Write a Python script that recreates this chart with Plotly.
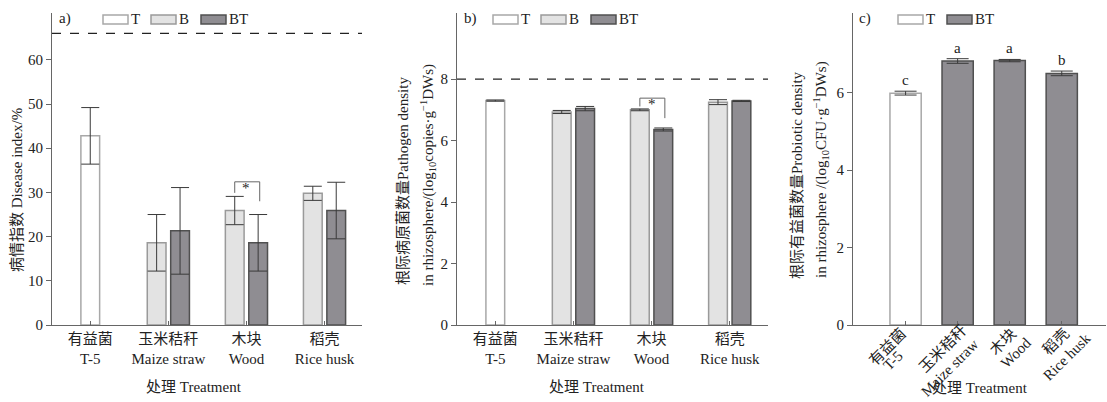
import plotly.graph_objects as go

W, H = 1107, 402
FONT = "Liberation Serif, 'Noto Sans CJK SC', serif"

# ---------------- data ----------------
cats_ab = ["有益菌<br>T-5", "玉米秸秆<br>Maize straw", "木块<br>Wood", "稻壳<br>Rice husk"]
cats_c = ["有益菌 T-5", "玉米秸秆 Maize straw", "木块 Wood", "稻壳 Rice husk"]
cats_c_cn = ["有益菌", "玉米秸秆", "木块", "稻壳"]
cats_c_en = ["T-5", "Maize straw", "Wood", "Rice husk"]

# panel a: disease index (%)
a_T = [42.8]
a_T_err = [6.4]
a_B = [18.6, 25.9, 29.8]
a_B_err = [6.4, 3.2, 1.6]
a_BT = [21.3, 18.6, 25.9]
a_BT_err = [9.8, 6.4, 6.4]
a_ref = 66.0

# panel b: pathogen density
b_T = [7.30]
b_T_err = [0.02]
b_B = [6.93, 7.00, 7.25]
b_B_err = [0.05, 0.03, 0.08]
b_BT = [7.04, 6.36, 7.29]
b_BT_err = [0.07, 0.05, 0.02]
b_ref = 8.0

# panel c: probiotic density
c_T = [5.99]
c_T_err = [0.05]
c_BT = [6.82, 6.83, 6.50]
c_BT_err = [0.06, 0.03, 0.06]
c_letters = ["c", "a", "a", "b"]

# significance brackets (top, left-leg end, right-leg end)
a_sig = [32.4, 29.9, 28.0]
b_sig = [7.38, 7.11, 6.73]

# ---------------- style ----------------
COL_T = "#ffffff"; LINE_T = "#a8a8a8"
COL_B = "#e3e3e3"; LINE_B = "#9a9a9a"
COL_BT = "#8f8d92"; LINE_BT = "#505050"
AX = "#666666"
ERR = "#3a3a3a"
FS = 15
# pixel placement of rotated label lines in panel c (dx from category centre, y centre)
c_lab1_pos = [(-18, 347), (-15, 349), (-7, 342), (-6, 342)]
c_lab2_pos = [(-13, 361), (-8, 368), (6, 353), (5, 357)]


def px(x):
    return x / W


def py(y):
    return 1 - y / H


fig = go.Figure()

def err(vals, w):
    return dict(type="data", array=vals, color=ERR, thickness=1, width=w)

BW = 0.24
# panel a
fig.add_trace(go.Bar(x=cats_ab[:1], y=a_T, error_y=err(a_T_err, 9), width=BW, offset=-BW / 2,
                     marker=dict(color=COL_T, line=dict(color=LINE_T, width=1.5)), xaxis="x", yaxis="y", name="T"))
fig.add_trace(go.Bar(x=cats_ab[1:], y=a_B, error_y=err(a_B_err, 9), width=BW, offset=-0.27,
                     marker=dict(color=COL_B, line=dict(color=LINE_B, width=1.5)), xaxis="x", yaxis="y", name="B"))
fig.add_trace(go.Bar(x=cats_ab[1:], y=a_BT, error_y=err(a_BT_err, 9), width=BW, offset=0.03,
                     marker=dict(color=COL_BT, line=dict(color=LINE_BT, width=1.5)), xaxis="x", yaxis="y", name="BT"))
# panel b
fig.add_trace(go.Bar(x=cats_ab[:1], y=b_T, error_y=err(b_T_err, 9), width=BW, offset=-BW / 2,
                     marker=dict(color=COL_T, line=dict(color=LINE_T, width=1.5)), xaxis="x2", yaxis="y2", name="T"))
fig.add_trace(go.Bar(x=cats_ab[1:], y=b_B, error_y=err(b_B_err, 9), width=BW, offset=-0.27,
                     marker=dict(color=COL_B, line=dict(color=LINE_B, width=1.5)), xaxis="x2", yaxis="y2", name="B"))
fig.add_trace(go.Bar(x=cats_ab[1:], y=b_BT, error_y=err(b_BT_err, 9), width=BW, offset=0.03,
                     marker=dict(color=COL_BT, line=dict(color=LINE_BT, width=1.5)), xaxis="x2", yaxis="y2", name="BT"))
# panel c
fig.add_trace(go.Bar(x=cats_c[:1], y=c_T, error_y=err(c_T_err, 11), width=0.6,
                     marker=dict(color=COL_T, line=dict(color=LINE_T, width=1.5)), xaxis="x3", yaxis="y3", name="T"))
fig.add_trace(go.Bar(x=cats_c[1:], y=c_BT, error_y=err(c_BT_err, 11), width=0.6,
                     marker=dict(color=COL_BT, line=dict(color=LINE_BT, width=1.5)), xaxis="x3", yaxis="y3", name="BT"))

ydom = [py(325), py(13)]
tickfont = dict(family=FONT, size=FS, color="#222")

def xax(dom, rng, cats, anchor, labels=True):
    return dict(domain=dom, range=rng, type="category", categoryorder="array", categoryarray=cats,
                showline=True, linecolor=AX, linewidth=1, ticks="inside", ticklen=4, tickcolor=AX,
                tickfont=tickfont, anchor=anchor, showgrid=False, zeroline=False,
                showticklabels=labels, automargin=False, fixedrange=True)

def yax(dom, rng, vals, anchor):
    return dict(domain=dom, range=rng, showline=True, linecolor=AX, linewidth=1, ticks="outside",
                ticklen=5, tickcolor=AX, tickvals=vals, tickfont=tickfont, anchor=anchor,
                showgrid=False, zeroline=False, automargin=False, fixedrange=True)

fig.update_layout(
    width=W, height=H, margin=dict(l=0, r=0, t=0, b=0, autoexpand=False),
    paper_bgcolor="white", plot_bgcolor="white", barmode="overlay", showlegend=False,
    font=dict(family=FONT, size=FS, color="#222"),
    xaxis=xax([px(52), px(362)], [-0.49, 3.48], cats_ab, "y"),
    yaxis=yax(ydom, [0, 70.6], [0, 10, 20, 30, 40, 50, 60], "x"),
    xaxis2=xax([px(457), px(768)], [-0.49, 3.49], cats_ab, "y2"),
    yaxis2=yax(ydom, [0, 10.15], [0, 2, 4, 6, 8], "x2"),
    xaxis3=xax([px(853), px(1106)], [-1.01, 3.85], cats_c, "y3", labels=False),
    yaxis3=yax(ydom, [0, 8.06], [0, 2, 4, 6], "x3"),
)

shapes = []
ann = []

# reference dashed lines
shapes.append(dict(type="line", xref="x domain", yref="y", x0=0, x1=1, y0=a_ref, y1=a_ref,
                   line=dict(color="#222", width=1.3, dash="dash")))
shapes.append(dict(type="line", xref="x2 domain", yref="y2", x0=0, x1=1, y0=b_ref, y1=b_ref,
                   line=dict(color="#222", width=1.3, dash="dash")))

# significance brackets (wood group, index 2)
for xr, yr, sig in (("x", "y", a_sig), ("x2", "y2", b_sig)):
    xl, xrr = 2 - 0.15, 2 + 0.17
    top, le, re = sig
    path = f"M{xl},{le} L{xl},{top} L{xrr},{top} L{xrr},{re}"
    shapes.append(dict(type="path", xref=xr, yref=yr, path=path, line=dict(color="#666", width=1)))
    ann.append(dict(x=2, y=top, xref=xr, yref=yr, text="*", showarrow=False, xanchor="center",
                    yanchor="top", yshift=4, font=dict(size=15, color="#222222")))

# letters panel c
for i, (v, e, t) in enumerate(zip(c_T + c_BT, c_T_err + c_BT_err, c_letters)):
    ann.append(dict(x=i, y=v + e, xref="x3", yref="y3", text=t, showarrow=False, xanchor="center",
                    yanchor="bottom", yshift=1, font=dict(size=FS, color="#222")))

# rotated category labels panel c (two lines each)
for i in range(len(cats_c)):
    for txt, (dx, yc) in ((cats_c_cn[i], c_lab1_pos[i]), (cats_c_en[i], c_lab2_pos[i])):
        ann.append(dict(x=i, y=py(yc), xref="x3", yref="paper", text=txt, textangle=-45,
                        showarrow=False, xanchor="center", yanchor="middle", xshift=dx,
                        font=dict(size=FS, color="#222")))

# panel labels
for t, x in (("a)", 57), ("b)", 462), ("c)", 857)):
    ann.append(dict(x=px(x), y=py(19), xref="paper", yref="paper", text=t, showarrow=False,
                    xanchor="left", yanchor="middle", font=dict(size=FS)))

# custom legends (wide boxes)
def legend(items):
    for x0, fill, lc, label in items:
        shapes.append(dict(type="rect", xref="paper", yref="paper", x0=px(x0), x1=px(x0 + 25),
                           y0=py(24), y1=py(15), fillcolor=fill, line=dict(color=lc, width=1.5)))
        ann.append(dict(x=px(x0 + 26), y=py(19), xref="paper", yref="paper", text=label,
                        showarrow=False, xanchor="left", yanchor="middle", font=dict(size=FS)))

legend([(103, COL_T, LINE_T, "T"), (151, COL_B, LINE_B, "B"), (201, COL_BT, LINE_BT, "BT")])
legend([(493, COL_T, LINE_T, "T"), (541, COL_B, LINE_B, "B"), (591, COL_BT, LINE_BT, "BT")])
legend([(898, COL_T, LINE_T, "T"), (947, COL_BT, LINE_BT, "BT")])

# axis titles
for x, y in ((194, 387), (597, 387), (980, 388)):
    ann.append(dict(x=px(x), y=py(y), xref="paper", yref="paper", text="处理 Treatment",
                    showarrow=False, xanchor="center", yanchor="middle", font=dict(size=FS)))

ylabels = [
    (17, 190, "病情指数 Disease index/%"),
    (403, 181, "根际病原菌数量Pathogen density"),
    (428, 175, "in rhizosphere/(log<sub>10</sub>copies·g<sup>−1</sup>DWs)"),
    (797, 175, "根际有益菌数量Probiotic density"),
    (821, 170, "in rhizosphere /(log<sub>10</sub>CFU·g<sup>−1</sup>DWs)"),
]
for x, y, t in ylabels:
    ann.append(dict(x=px(x), y=py(y), xref="paper", yref="paper", text=t, textangle=-90,
                    showarrow=False, xanchor="center", yanchor="middle", font=dict(size=FS)))

fig.update_layout(shapes=shapes, annotations=ann)
fig.write_html("out.html")
